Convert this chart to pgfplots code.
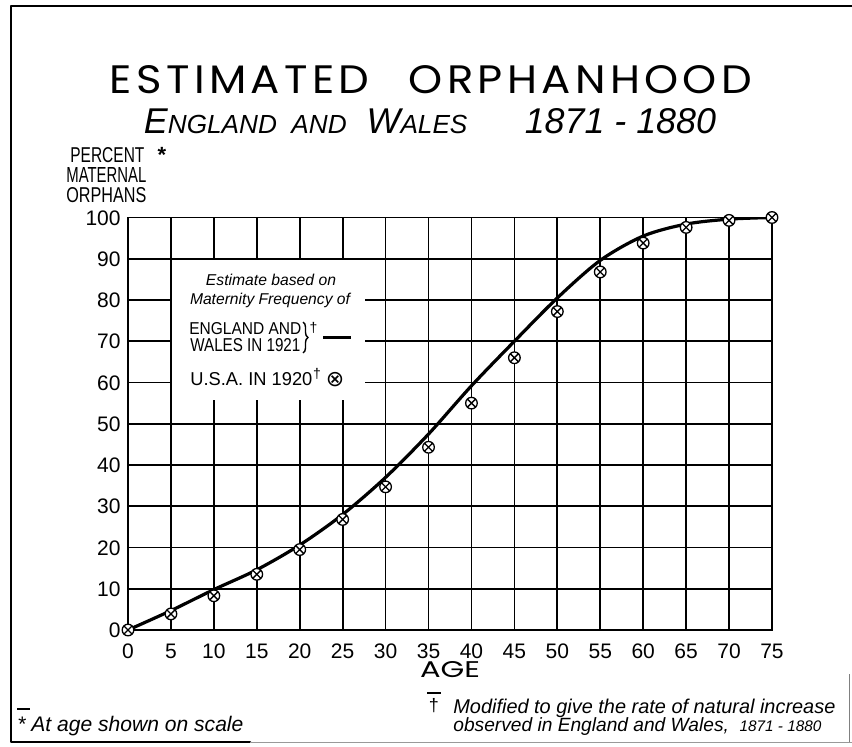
\documentclass[border=0pt]{standalone}
\usepackage{fontspec}
\setmainfont{Liberation Sans}
\newfontfamily\geo[LetterSpace=10]{Poppins}
\newfontfamily\geoplain{Poppins}
\newfontfamily\dvs{DejaVu Sans}
\usepackage{graphicx}
\usepackage{pgfplots}
\usepackage{pgfplotstable}
\pgfplotsset{compat=1.18}
\usetikzlibrary{decorations.pathreplacing}

\pgfplotstableread{
age pct
0 0
5 4.7
10 9.8
15 14.6
20 20.6
25 28.0
30 37.0
35 47.5
40 59.2
45 70.0
50 80.5
55 89.6
60 95.5
65 98.4
70 99.6
75 100
}\ewcurve

\pgfplotstableread{
age pct
0 0
5 3.9
10 8.3
15 13.5
20 19.5
25 26.8
30 34.7
35 44.3
40 55.0
45 66.0
50 77.2
55 86.8
60 93.8
65 97.6
70 99.3
75 100
}\usapts

\begin{document}
\begin{tikzpicture}[x=0.5pt,y=0.5pt]
\path[use as bounding box] (0,0) rectangle (852,746);
% frame
\draw[line width=1.3pt,line cap=round,line join=round] (852,740) -- (11,740) -- (11,4) -- (250,4);
\draw[line width=0.4pt, black!40] (250,4) -- (852,4);
\draw[line width=0.5pt, black!50] (849,4) -- (849,72);

\begin{axis}[
  at={(64pt,58pt)}, anchor=south west, scale only axis,
  width=322pt, height=206.25pt,
  xmin=0, xmax=75, ymin=0, ymax=100,
  xtick={0,5,...,75}, ytick={0,10,...,100},
  grid=major, major grid style={black, line width=0.85pt},
  axis line style={line width=0.9pt},
  major tick length=0pt,
  /pgf/number format/assume math mode=true,
  ticklabel style={font=\fontsize{10.5}{12}\selectfont},
  xticklabel style={inner sep=0pt, text height=7.6pt, text depth=0pt, anchor=north, yshift=-6.5pt},
  yticklabel style={inner sep=0pt, text height=7.6pt, text depth=0pt, anchor=east, xshift=-3.5pt},
]
\fill[white] (axis cs:5.12,55.7) rectangle (axis cs:27.6,89.76);
\addplot[line width=1.6pt, smooth, no marks] table[x=age,y=pct]{\ewcurve};
\addplot[only marks, mark=otimes*, mark size=2.9pt, mark options={line width=0.65pt, fill=white, draw=black}] table[x=age,y=pct]{\usapts};
\end{axis}

% title
\node at (431,666) {\resizebox{321pt}{14pt}{\geo ESTIMATED\hspace{0.9em}ORPHANHOOD}};
\node at (430,625) {\resizebox{286pt}{!}{\itshape\fontsize{13}{13}\selectfont E{\fontsize{9.5}{10}\selectfont NGLAND\ \ AND}\ \ W{\fontsize{9.5}{10}\selectfont ALES}\hspace{1.6em}1871 - 1880}};

% y label
\node[anchor=west,inner sep=0] at (70,590.5) {\resizebox{37pt}{7.5pt}{PERCENT}};
\node[inner sep=0] at (162,591) {\fontsize{11}{11}\selectfont\bfseries *};
\node[anchor=west,inner sep=0] at (66,570.5) {\resizebox{40pt}{7.5pt}{MATERNAL}};
\node[anchor=west,inner sep=0] at (66,550.5) {\resizebox{40pt}{7.5pt}{ORPHANS}};

% legend
\node[inner sep=0] at (271,466) {\resizebox{65pt}{!}{\itshape Estimate based on}};
\node[inner sep=0] at (270,446) {\resizebox{80pt}{!}{\itshape Maternity Frequency of}};
\node[anchor=west, inner sep=0] at (189,417) {\resizebox{56pt}{6pt}{ENGLAND AND}};
\node[anchor=west, inner sep=0] at (190,401) {\resizebox{55pt}{6.5pt}{WALES IN 1921}};
\draw[decorate, decoration={brace, amplitude=2.5pt}, line width=0.7pt] (303,424) -- (303,393);
\node[inner sep=0] at (313.5,418) {\fontsize{7}{7}\selectfont †};
\draw[line width=1.5pt] (323,409) -- (351,409);
\node[anchor=west, inner sep=0] at (190,367) {\resizebox{61pt}{6.5pt}{U.S.A. IN 1920}};
\node[inner sep=0] at (317,372) {\fontsize{7}{7}\selectfont †};
\node[inner sep=0] at (335,366) {\fontsize{11}{11}\selectfont\dvs ⊗};

% x label
\node[inner sep=0] at (450,76) {\resizebox{30pt}{8pt}{\geoplain AGE}};

% footnotes
\draw[line width=1pt] (17,37) -- (30,37);
\node[anchor=west,inner sep=0] at (17,20) {\resizebox{113pt}{!}{\itshape * At age shown on scale}};
\draw[line width=1pt] (427,53) -- (441,53);
\node[inner sep=0] at (434,40) {\fontsize{9}{9}\selectfont †};
\node[anchor=west,inner sep=0] at (453,38) {\resizebox{191pt}{!}{\itshape Modified to give the rate of natural increase}};
\node[anchor=west,inner sep=0] at (453,19) {\resizebox{184pt}{!}{\itshape observed in England and Wales,\ \ {\footnotesize 1871 - 1880}}};
\end{tikzpicture}
\end{document}
